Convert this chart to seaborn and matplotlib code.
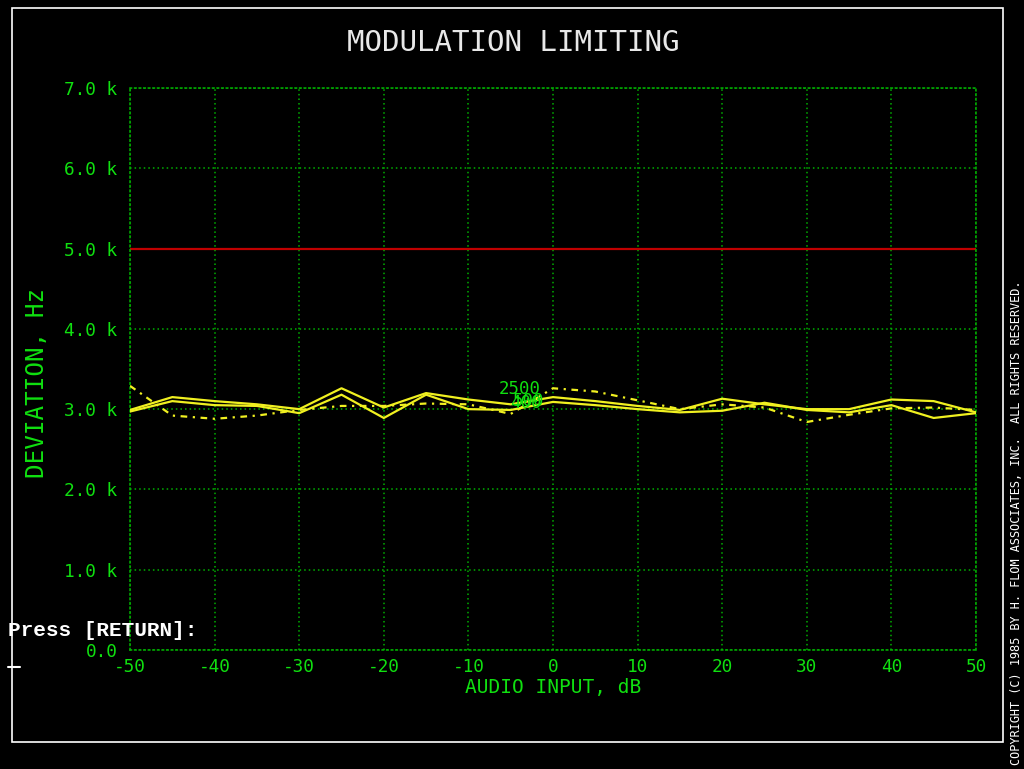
import numpy as np
import pandas as pd
import matplotlib
matplotlib.use("Agg")
import matplotlib.pyplot as plt
import seaborn as sns

# Audio input level (dB) and measured peak deviation (Hz) for three test tones
audio_db = [-50, -45, -40, -35, -30, -25, -20, -15, -10, -5, 0,
            5, 10, 15, 20, 25, 30, 35, 40, 45, 50]
dev_2500 = [2990, 3150, 3100, 3060, 3000, 3260, 3020, 3200, 3120, 3060, 3150,
            3100, 3040, 2990, 3130, 3060, 3000, 3000, 3120, 3100, 2960]
dev_400 = [2970, 3100, 3050, 3040, 2950, 3180, 2890, 3180, 3000, 2990, 3090,
           3050, 3000, 2960, 2980, 3080, 2990, 2960, 3050, 2890, 2950]
dev_500 = [3290, 2920, 2880, 2920, 2990, 3040, 3040, 3070, 3060, 2940, 3260,
           3220, 3110, 3000, 3060, 3020, 2840, 2930, 3010, 3020, 2990]
series_names = ["2500", "400", "500"]
limit_hz = 5000

x_ticks = [-50, -40, -30, -20, -10, 0, 10, 20, 30, 40, 50]
y_ticks = [0, 1000, 2000, 3000, 4000, 5000, 6000, 7000]
y_tick_labels = ["0.0", "1.0 k", "2.0 k", "3.0 k", "4.0 k", "5.0 k", "6.0 k", "7.0 k"]

df = pd.DataFrame({
    "AUDIO INPUT, dB": audio_db * 3,
    "DEVIATION, Hz": dev_2500 + dev_400 + dev_500,
    "tone": [n for n in series_names for _ in audio_db],
})

sns.set_theme(style="dark", rc={
    "figure.facecolor": "black",
    "axes.facecolor": "black",
    "savefig.facecolor": "black",
})
plt.rcParams["font.family"] = ["DejaVu Sans Mono", "DejaVu Sans"]

GREEN = "#10e010"
GRID = "#00b000"
YELLOW = "#f0f020"

fig = plt.figure(figsize=(10.24, 7.69), dpi=100)
ax = fig.add_axes([130 / 1024, 1 - 650 / 769, 846 / 1024, 562 / 769])

# Screen border
fig.add_artist(plt.Rectangle((12 / 1024, 1 - 742 / 769), 991 / 1024, 734 / 769,
                             transform=fig.transFigure, fill=False,
                             edgecolor="white", linewidth=1.2))

ax.axhline(limit_hz, color="#c00000", linewidth=1.6, zorder=2)

sns.lineplot(data=df, x="AUDIO INPUT, dB", y="DEVIATION, Hz", hue="tone",
             style="tone",
             palette={"2500": YELLOW, "400": YELLOW, "500": YELLOW},
             dashes={"2500": "", "400": "", "500": (3, 2.5, 1, 2.5)},
             linewidth=1.6, legend=False, ax=ax, zorder=3)

ax.set_xlim(-50, 50)
ax.set_ylim(0, 7000)
ax.set_xticks(x_ticks)
ax.set_xticklabels([str(t) for t in x_ticks])
ax.set_yticks(y_ticks)
ax.set_yticklabels(y_tick_labels)
ax.tick_params(colors=GREEN, labelsize=12.8, length=0)
ax.tick_params(axis="y", pad=9)
ax.tick_params(axis="x", pad=6)
ax.grid(True, color=GRID, linestyle=(0, (1, 2)), linewidth=1.1)
for sp in ax.spines.values():
    sp.set_visible(True)
    sp.set_color(GRID)
    sp.set_linestyle((0, (1, 2)))
    sp.set_linewidth(1.1)

ax.set_xlabel("AUDIO INPUT, dB", color=GREEN, fontsize=14)
ax.set_ylabel("DEVIATION, Hz", color=GREEN, fontsize=17.5)
ax.xaxis.label.set_va("center")
ax.yaxis.label.set_va("center")
ax.xaxis.set_label_coords(0.5, -0.0676)
ax.yaxis.set_label_coords(-0.110, 0.475)

# Tone labels
ax.text(-1.4, 3250, "2500", color=GREEN, fontsize=12.5, ha="right", va="center", zorder=4)
ax.text(-1.4, 3075, "400", color=GREEN, fontsize=12.5, ha="right", va="center", zorder=4)
ax.text(-1.0, 3100, "500", color=GREEN, fontsize=12.5, ha="right", va="center", zorder=4)

fig.text(513 / 1024, 1 - 43 / 769, "MODULATION LIMITING", color="#e8e8e8",
         fontsize=21, ha="center", va="center")

fig.text(8 / 1024, 1 - 630 / 769, "Press [RETURN]:", color="white",
         fontsize=15.2, fontweight="bold", family="Liberation Mono",
         ha="left", va="center")
fig.add_artist(plt.Line2D([8 / 1024, 20 / 1024], [1 - 667 / 769, 1 - 667 / 769],
                          color="white", linewidth=1.5))

fig.text(1017 / 1024, 1 - 765 / 769,
         "COPYRIGHT (C) 1985 BY H. FLOM ASSOCIATES, INC.  ALL RIGHTS RESERVED.",
         color="white", fontsize=8.6, rotation=90, ha="center", va="bottom")

fig.savefig("out.png", dpi=100, facecolor="black")
